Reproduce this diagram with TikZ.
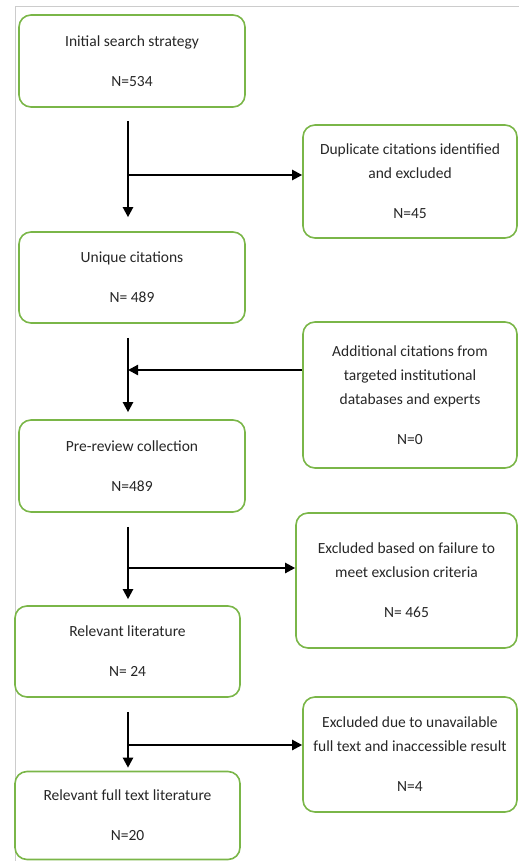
\documentclass[tikz,border=0pt]{standalone}
\usepackage{fontspec}
\setmainfont{Carlito}
\usetikzlibrary{arrows.meta,calc}
\definecolor{boxgreen}{HTML}{7AB648}
\begin{document}
\begin{tikzpicture}[x=1pt,y=-1pt,
  box/.style={draw=boxgreen,line width=1.6pt,rounded corners=12pt,align=center,
    inner sep=0pt,text=black!85,font=\fontsize{15.5}{24}\selectfont},
  arr/.style={line width=2.2pt,-{Triangle[length=10pt,width=10pt]}},
  ln/.style={line width=2.2pt}]
\useasboundingbox (0,0) rectangle (519,861);
\draw[black!20,line width=0.6pt] (15,861) -- (15,6) -- (519,6);
\node[box,minimum width=226,minimum height=92] (b1) at (132,61) {Initial search strategy\\[16pt]N=534};
\node[box,minimum width=214,minimum height=113] (b2) at (410,181.5) {Duplicate citations identified\\and excluded\\[16pt]N=45};
\node[box,minimum width=226,minimum height=91] (b3) at (132,277.5) {Unique citations\\[16pt]N= 489};
\node[box,minimum width=214,minimum height=146] (b4) at (410,395) {Additional citations from\\targeted institutional\\databases and experts\\[16pt]N=0};
\node[box,minimum width=226,minimum height=92] (b5) at (132,466) {Pre-review collection\\[16pt]N=489};
\node[box,minimum width=221,minimum height=135] (b6) at (406.5,580.5) {Excluded based on failure to\\meet exclusion criteria\\[16pt]N= 465};
\node[box,minimum width=225,minimum height=91] (b7) at (127.5,651.5) {Relevant literature\\[16pt]N= 24};
\node[box,minimum width=214,minimum height=115] (b8) at (410,754.5) {Excluded due to unavailable\\full text and inaccessible result\\[16pt]N=4};
\node[box,minimum width=225,minimum height=88] (b9) at (127.5,815.5) {Relevant full text literature\\[16pt]N=20};
% junction points
\coordinate (j1) at (128,175);
\coordinate (j2) at (128,370);
\coordinate (j3) at (128,568);
\coordinate (j4) at (128,745);
% vertical arrows
\draw[arr] ($(b1.south)+(-4,13)$) -- ($(b3.north)+(-4,-14)$);
\draw[arr] ($(b3.south)+(-4,14)$) -- ($(b5.north)+(-4,-7)$);
\draw[arr] ($(b5.south)+(-4,14)$) -- ($(b7.north)+(0.5,-6)$);
\draw[arr] ($(b7.south)+(0.5,14)$) -- ($(b9.north)+(0.5,-3)$);
% side branches
\draw[arr] (j1) -- (b2.west |- j1);
\draw[arr] (b4.west |- j2) -- (j2);
\draw[arr] (j3) -- (b6.west |- j3);
\draw[arr] (j4) -- (b8.west |- j4);
\end{tikzpicture}
\end{document}
